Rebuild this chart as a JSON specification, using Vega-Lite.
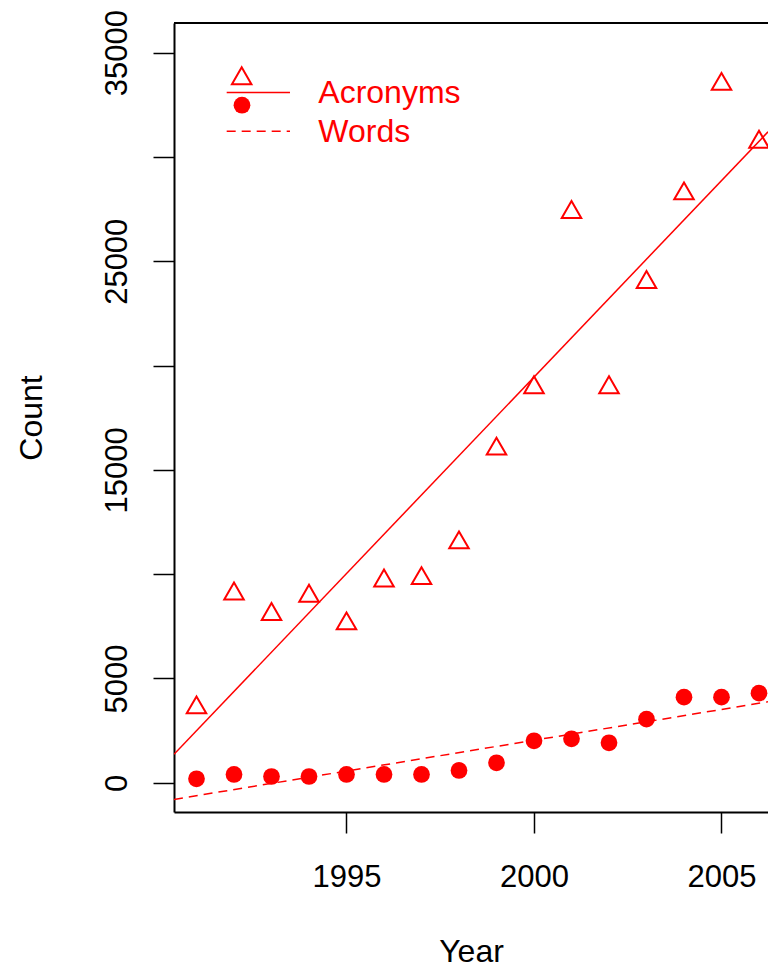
{
  "$schema": "https://vega.github.io/schema/vega-lite/v6.json",
  "width": 594,
  "height": 789,
  "autosize": {"type": "none"},
  "padding": {"left": 174, "top": 23, "right": 0, "bottom": 158},
  "background": "white",
  "config": {
    "view": {"stroke": null},
    "font": "Liberation Sans, Arial, Helvetica, sans-serif",
    "axis": {
      "grid": false,
      "domain": true,
      "domainColor": "black",
      "domainWidth": 2,
      "ticks": true,
      "tickColor": "black",
      "tickWidth": 1.5,
      "tickSize": 21,
      "labelFont": "Liberation Sans, Arial, Helvetica, sans-serif",
      "labelFontSize": 31,
      "labelColor": "black",
      "labelFlush": false,
      "labelOverlap": false,
      "titleFont": "Liberation Sans, Arial, Helvetica, sans-serif",
      "titleFontSize": 32,
      "titleFontWeight": "normal",
      "titleColor": "black"
    }
  },
  "datasets": {
    "counts": [
      {"year": 1991, "series": "Acronyms", "count": 3601},
      {"year": 1992, "series": "Acronyms", "count": 9057},
      {"year": 1993, "series": "Acronyms", "count": 8074},
      {"year": 1994, "series": "Acronyms", "count": 8953},
      {"year": 1995, "series": "Acronyms", "count": 7628},
      {"year": 1996, "series": "Acronyms", "count": 9680},
      {"year": 1997, "series": "Acronyms", "count": 9795},
      {"year": 1998, "series": "Acronyms", "count": 11512},
      {"year": 1999, "series": "Acronyms", "count": 16004},
      {"year": 2000, "series": "Acronyms", "count": 18944},
      {"year": 2001, "series": "Acronyms", "count": 27343},
      {"year": 2002, "series": "Acronyms", "count": 18944},
      {"year": 2003, "series": "Acronyms", "count": 23987},
      {"year": 2004, "series": "Acronyms", "count": 28240},
      {"year": 2005, "series": "Acronyms", "count": 33485},
      {"year": 2006, "series": "Acronyms", "count": 30714},
      {"year": 1991, "series": "Words", "count": 192},
      {"year": 1992, "series": "Words", "count": 398},
      {"year": 1993, "series": "Words", "count": 302},
      {"year": 1994, "series": "Words", "count": 302},
      {"year": 1995, "series": "Words", "count": 398},
      {"year": 1996, "series": "Words", "count": 398},
      {"year": 1997, "series": "Words", "count": 398},
      {"year": 1998, "series": "Words", "count": 590},
      {"year": 1999, "series": "Words", "count": 959},
      {"year": 2000, "series": "Words", "count": 2014},
      {"year": 2001, "series": "Words", "count": 2110},
      {"year": 2002, "series": "Words", "count": 1918},
      {"year": 2003, "series": "Words", "count": 3051},
      {"year": 2004, "series": "Words", "count": 4106},
      {"year": 2005, "series": "Words", "count": 4106},
      {"year": 2006, "series": "Words", "count": 4298}
    ],
    "legend": [
      {"series": "Acronyms", "label": "Acronyms"},
      {"series": "Words", "label": "Words"}
    ]
  },
  "data": {"name": "counts"},
  "layer": [
    {
      "transform": [{"filter": "datum.series === 'Acronyms'"}],
      "mark": {"type": "point", "shape": "M0,-1.1547L1,0.5774L-1,0.5774Z", "filled": false, "stroke": "#FF0000", "strokeWidth": 2, "size": 380, "opacity": 1, "strokeJoin": "miter"},
      "encoding": {
        "x": {"field": "year", "type": "quantitative", "scale": {"domain": [1990.4, 2006.24], "nice": false, "zero": false},
              "axis": {"values": [1995, 2000, 2005], "format": "d", "labelPadding": 29, "labelBaseline": "top", "labelAlign": "center", "titlePadding": 44}, "title": "Year"},
        "y": {"field": "count", "type": "quantitative", "scale": {"domain": [-1400, 36420], "nice": false, "zero": false},
              "axis": {"values": [0, 5000, 10000, 15000, 20000, 25000, 30000, 35000], "format": "d", "labelAngle": 270, "labelAlign": "center", "labelBaseline": "bottom", "labelPadding": 19.5, "titlePadding": 53,
                       "labelExpr": "indexof([10000, 20000, 30000], datum.value) >= 0 ? '' : datum.label"}, "title": "Count"}
      }
    },
    {
      "transform": [{"filter": "datum.series === 'Words'"}],
      "mark": {"type": "circle", "color": "#FF0000", "size": 280, "opacity": 1},
      "encoding": {
        "x": {"field": "year", "type": "quantitative"},
        "y": {"field": "count", "type": "quantitative"}
      }
    },
    {
      "transform": [
        {"filter": "datum.series === 'Acronyms'"},
        {"regression": "count", "on": "year", "extent": [1990.4, 2006.24]}
      ],
      "mark": {"type": "line", "color": "#FF0000", "strokeWidth": 1.5, "clip": true},
      "encoding": {
        "x": {"field": "year", "type": "quantitative"},
        "y": {"field": "count", "type": "quantitative"}
      }
    },
    {
      "transform": [
        {"filter": "datum.series === 'Words'"},
        {"regression": "count", "on": "year", "extent": [1990.4, 2006.24]}
      ],
      "mark": {"type": "line", "color": "#FF0000", "strokeWidth": 1.5, "strokeDash": [9, 6], "clip": true},
      "encoding": {
        "x": {"field": "year", "type": "quantitative"},
        "y": {"field": "count", "type": "quantitative"}
      }
    },
    {
      "mark": {"type": "rule", "color": "black", "strokeWidth": 2},
      "encoding": {
        "y": {"datum": 36420, "type": "quantitative"}
      }
    },
    {
      "data": {"name": "legend"},
      "transform": [{"filter": "datum.series === 'Acronyms'"}],
      "mark": {"type": "point", "shape": "M0,-1.1547L1,0.5774L-1,0.5774Z", "filled": false, "stroke": "#FF0000", "strokeWidth": 2, "size": 380, "opacity": 1, "strokeJoin": "miter"},
      "encoding": {
        "x": {"datum": 1992.205, "type": "quantitative"},
        "y": {"datum": 33758, "type": "quantitative"}
      }
    },
    {
      "data": {"name": "legend"},
      "transform": [{"filter": "datum.series === 'Acronyms'"}],
      "mark": {"type": "rule", "color": "#FF0000", "strokeWidth": 1.5},
      "encoding": {
        "x": {"datum": 1991.805, "type": "quantitative"},
        "x2": {"datum": 1993.493},
        "y": {"datum": 33087, "type": "quantitative"}
      }
    },
    {
      "data": {"name": "legend"},
      "transform": [{"filter": "datum.series === 'Words'"}],
      "mark": {"type": "circle", "color": "#FF0000", "size": 280, "opacity": 1},
      "encoding": {
        "x": {"datum": 1992.213, "type": "quantitative"},
        "y": {"datum": 32478, "type": "quantitative"}
      }
    },
    {
      "data": {"name": "legend"},
      "transform": [{"filter": "datum.series === 'Words'"}],
      "mark": {"type": "rule", "color": "#FF0000", "strokeWidth": 1.5, "strokeDash": [9, 6]},
      "encoding": {
        "x": {"datum": 1991.805, "type": "quantitative"},
        "x2": {"datum": 1993.493},
        "y": {"datum": 31232, "type": "quantitative"}
      }
    },
    {
      "data": {"name": "legend"},
      "transform": [{"filter": "datum.series === 'Acronyms'"}],
      "mark": {"type": "text", "color": "#FF0000", "fontSize": 32, "align": "left", "baseline": "alphabetic", "font": "Liberation Sans, Arial, Helvetica, sans-serif"},
      "encoding": {
        "x": {"datum": 1994.248, "type": "quantitative"},
        "y": {"datum": 32589, "type": "quantitative"},
        "text": {"field": "label"}
      }
    },
    {
      "data": {"name": "legend"},
      "transform": [{"filter": "datum.series === 'Words'"}],
      "mark": {"type": "text", "color": "#FF0000", "fontSize": 32, "align": "left", "baseline": "alphabetic", "font": "Liberation Sans, Arial, Helvetica, sans-serif"},
      "encoding": {
        "x": {"datum": 1994.248, "type": "quantitative"},
        "y": {"datum": 30719, "type": "quantitative"},
        "text": {"field": "label"}
      }
    }
  ]
}
